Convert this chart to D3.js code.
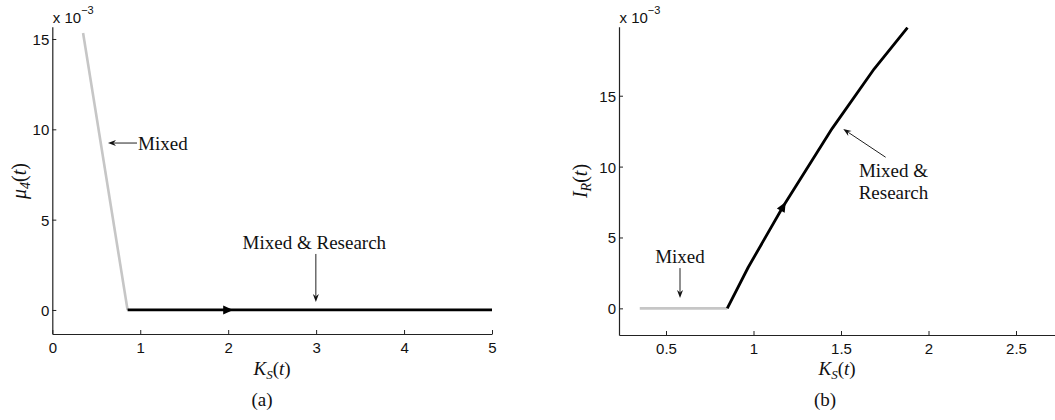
<!DOCTYPE html>
<html>
<head>
<meta charset="utf-8">
<script src="https://cdn.jsdelivr.net/npm/d3@7"></script>
<style>
  html, body { margin: 0; padding: 0; background: #fff; }
  svg { display: block; }
  .tick text { font-family: "Liberation Sans", Arial, sans-serif; font-size: 15px; fill: #111; }
  .serif { font-family: "Liberation Serif", "Times New Roman", serif; fill: #111; }
</style>
</head>
<body>
<svg id="chart" width="1055" height="420"></svg>
<script>
// Panel (a): fourth multiplier mu_4 against capital stock K_S
const ksMixedA = [0.35, 0.856];
const mu4MixedA = [0.01533, 0];
const ksResearchA = [0.856, 5];
const mu4ResearchA = [0, 0];

// Panel (b): research investment I_R against capital stock K_S
const ksMixedB = [0.35, 0.85];
const irMixedB = [0, 0];
const ksResearchB = [0.85, 0.97, 1.17, 1.45, 1.69, 1.88];
const irResearchB = [0, 0.0029, 0.0072, 0.0127, 0.0169, 0.0198];

// Axis ticks
const xTicksA = [0, 1, 2, 3, 4, 5];
const xTicksB = [0.5, 1, 1.5, 2, 2.5];
const yTicks = [0, 0.005, 0.01, 0.015];

// Direction markers on the trajectories
const markerA = { ks: 2.0, v: 0 };
const markerB = { ks: 1.17, v: 0.0072 };

const svg = d3.select("#chart");
const GRAY = "#c6c6c6";
const BLACK = "#000";

function drawPanel(cfg) {
  const g = svg.append("g");
  const x = d3.scaleLinear().domain(cfg.xDomain).range(cfg.xRange);
  const y = d3.scaleLinear().domain(cfg.yDomain).range(cfg.yRange);

  const xAxis = d3.axisBottom(x).tickValues(cfg.xTicks)
    .tickSizeInner(-4).tickSizeOuter(0).tickPadding(8)
    .tickFormat(d3.format("~g"));
  const yAxis = d3.axisLeft(y).tickValues(yTicks)
    .tickSizeInner(-4).tickSizeOuter(0).tickPadding(3)
    .tickFormat(d => d3.format("~g")(Math.round(d * 1000)));

  const gx = g.append("g").attr("transform", `translate(0,${cfg.yRange[0]})`).call(xAxis);
  const gy = g.append("g").attr("transform", `translate(${cfg.xRange[0]},0)`).call(yAxis);
  [gx, gy].forEach(a => {
    a.select(".domain").attr("stroke", "#222").attr("stroke-width", 1.2);
    a.selectAll(".tick line").attr("stroke", "#222");
  });
  gy.selectAll(".tick text").attr("dy", "0.36em");

  // exponent label above the y axis
  const ex = g.append("text")
    .attr("x", cfg.xRange[0] + 0.5).attr("y", 23)
    .attr("font-family", "Liberation Sans, Arial, sans-serif")
    .attr("font-size", 15).attr("fill", "#111");
  ex.append("tspan").text("x 10");
  ex.append("tspan").attr("font-size", 11).attr("dy", -9).text("\u22123");

  const line = d3.line().x(d => x(d[0])).y(d => y(d[1]));

  // clip the curves to the plotting area
  const clipId = "clip-" + cfg.id;
  svg.append("clipPath").attr("id", clipId).append("rect")
    .attr("x", cfg.xRange[0]).attr("y", cfg.yRange[1])
    .attr("width", cfg.xRange[1] - cfg.xRange[0])
    .attr("height", cfg.yRange[0] - cfg.yRange[1]);
  const plot = g.append("g").attr("clip-path", `url(#${clipId})`);

  plot.append("path").datum(d3.zip(cfg.mixedX, cfg.mixedY))
    .attr("d", line).attr("fill", "none")
    .attr("stroke", GRAY).attr("stroke-width", 2.6).attr("stroke-linejoin", "round");
  plot.append("path").datum(d3.zip(cfg.resX, cfg.resY))
    .attr("d", line).attr("fill", "none")
    .attr("stroke", BLACK).attr("stroke-width", 2.8).attr("stroke-linejoin", "round");

  // direction marker: triangle oriented along the research segment
  const pts = d3.zip(cfg.resX, cfg.resY);
  let k = pts.findIndex(p => p[0] >= cfg.marker.ks);
  if (k < 1) k = 1;
  const p0 = pts[k - 1], p1 = pts[k];
  const ang = Math.atan2(y(p1[1]) - y(p0[1]), x(p1[0]) - x(p0[0])) * 180 / Math.PI;
  g.append("path")
    .attr("d", "M5,0 L-5,-4.5 L-5,4.5 Z")
    .attr("fill", BLACK)
    .attr("transform", `translate(${x(cfg.marker.ks)},${y(cfg.marker.v)}) rotate(${ang})`);

  // annotations
  cfg.notes.forEach(n => {
    const tx = x(n.tail[0]), ty = y(n.tail[1]);
    const hx = x(n.tip[0]), hy = y(n.tip[1]);
    const a = Math.atan2(hy - ty, hx - tx);
    const L = 8, W = 3;
    g.append("line").attr("x1", tx).attr("y1", ty)
      .attr("x2", hx - Math.cos(a) * (L - 2)).attr("y2", hy - Math.sin(a) * (L - 2))
      .attr("stroke", "#222").attr("stroke-width", 1);
    const bx = hx - Math.cos(a) * L, by = hy - Math.sin(a) * L;
    g.append("path")
      .attr("d", `M${hx},${hy} L${bx - Math.sin(a) * W},${by + Math.cos(a) * W} L${bx + Math.cos(a) * 2.5},${by + Math.sin(a) * 2.5} L${bx + Math.sin(a) * W},${by - Math.cos(a) * W} Z`)
      .attr("fill", "#111");
    n.lines.forEach((t, i) => {
      g.append("text").attr("class", "serif")
        .attr("x", x(n.text[0])).attr("y", y(n.text[1]) + i * 22)
        .attr("text-anchor", n.anchor).attr("font-size", 19).text(t);
    });
  });

  // x axis title K_S(t)
  const xl = g.append("text").attr("class", "serif")
    .attr("x", cfg.xTitleX).attr("y", 375).attr("text-anchor", "middle").attr("font-size", 19);
  xl.append("tspan").attr("font-style", "italic").text("K");
  xl.append("tspan").attr("font-style", "italic").attr("font-size", 13).attr("dy", 4).text("S");
  xl.append("tspan").attr("dy", -4).text("(");
  xl.append("tspan").attr("font-style", "italic").text("t");
  xl.append("tspan").text(")");

  // y axis title
  const yl = g.append("text").attr("class", "serif")
    .attr("transform", `translate(${cfg.yTitleX},181) rotate(-90)`)
    .attr("text-anchor", "middle").attr("font-size", 20);
  yl.append("tspan").attr("font-style", "italic").text(cfg.yTitle[0]);
  yl.append("tspan").attr("font-style", "italic").attr("font-size", 14).attr("dy", 4).text(cfg.yTitle[1]);
  yl.append("tspan").attr("dy", -4).text("(");
  yl.append("tspan").attr("font-style", "italic").text("t");
  yl.append("tspan").text(")");

  // sub-figure caption
  g.append("text").attr("class", "serif")
    .attr("x", cfg.captionX).attr("y", 406).attr("text-anchor", "middle")
    .attr("font-size", 19).text(cfg.caption);
}

drawPanel({
  id: "a",
  xDomain: [0, 5], xRange: [52.3, 492],
  yDomain: [-0.00133, 0.01568], yRange: [334, 26.7],
  xTicks: xTicksA,
  mixedX: ksMixedA, mixedY: mu4MixedA,
  resX: ksResearchA, resY: mu4ResearchA,
  marker: markerA,
  notes: [
    { tail: [0.963, 0.00924], tip: [0.633, 0.00924], text: [0.975, 0.00885], anchor: "start", lines: ["Mixed"] },
    { tail: [2.997, 0.0031], tip: [2.997, 0.00044], text: [2.98, 0.0034], anchor: "middle", lines: ["Mixed & Research"] }
  ],
  xTitleX: 272, yTitleX: 26, yTitle: ["\u03bc", "4"],
  captionX: 262, caption: "(a)"
});

drawPanel({
  id: "b",
  xDomain: [0.2314, 2.75], xRange: [619, 1059.75],
  yDomain: [-0.00188, 0.01987], yRange: [335, 26.7],
  xTicks: xTicksB,
  mixedX: ksMixedB, mixedY: irMixedB,
  resX: ksResearchB, resY: irResearchB,
  marker: markerB,
  notes: [
    { tail: [0.58, 0.00284], tip: [0.58, 0.00073], text: [0.58, 0.0032], anchor: "middle", lines: ["Mixed"] },
    { tail: [1.755, 0.01066], tip: [1.513, 0.01265], text: [1.80, 0.0093], anchor: "middle", lines: ["Mixed &", "Research"] }
  ],
  xTitleX: 837, yTitleX: 587, yTitle: ["I", "R"],
  captionX: 825, caption: "(b)"
});
</script>
</body>
</html>
